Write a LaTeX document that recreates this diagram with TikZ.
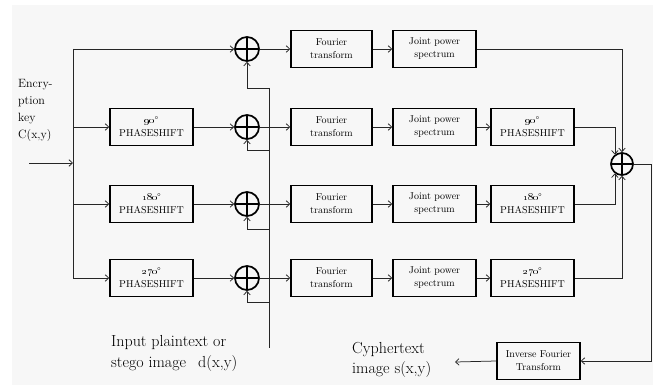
\documentclass[tikz,border=0pt]{standalone}
\usetikzlibrary{arrows.meta}
\begin{document}
\begin{tikzpicture}[x=1pt,y=-1pt,
  ln/.style={line width=0.75pt, draw=black!85},
  arr/.style={ln, -{Straight Barb[length=3.5pt,width=6.5pt]}},
  blk/.style={draw, line width=1.5pt, minimum width=83pt, minimum height=37pt,
    align=center, inner sep=1pt, font=\fontsize{10}{13}\selectfont},
  addr/.style={circle, draw, line width=1.7pt, minimum size=24pt, inner sep=0pt,
    path picture={\draw[line width=1.3pt]
      (path picture bounding box.north) -- (path picture bounding box.south)
      (path picture bounding box.west) -- (path picture bounding box.east);}},
  lbl/.style={anchor=north west, align=left, inner sep=0pt}]
\useasboundingbox (0,0) rectangle (661,385);
\fill[black!3] (12,5) rectangle (653,385);

% summing junctions for key and plaintext
\node[addr] (a1) at (247,49) {};
\node[addr] (a2) at (247,127) {};
\node[addr] (a3) at (247,204) {};
\node[addr] (a4) at (247,278) {};

% phase shifts applied to the key
\node[blk] (ps2) at (151.5,127) {\oldstylenums{90}°\\PHASESHIFT};
\node[blk] (ps3) at (151.5,204) {\oldstylenums{180}°\\PHASESHIFT};
\node[blk] (ps4) at (151.5,278) {\oldstylenums{270}°\\PHASESHIFT};

% transform chains
\node[blk, minimum width=81pt] (ft1) at (331.5,49) {Fourier\\transform};
\node[blk, minimum width=81pt] (ft2) at (331.5,127) {Fourier\\transform};
\node[blk, minimum width=81pt] (ft3) at (331.5,204) {Fourier\\transform};
\node[blk, minimum width=81pt] (ft4) at (331.5,278) {Fourier\\transform};
\node[blk] (jp1) at (434.5,49) {Joint power\\spectrum};
\node[blk] (jp2) at (434.5,127) {Joint power\\spectrum};
\node[blk] (jp3) at (434.5,204) {Joint power\\spectrum};
\node[blk] (jp4) at (434.5,278) {Joint power\\spectrum};
\node[blk] (rp2) at (532.5,127) {\oldstylenums{90}°\\PHASESHIFT};
\node[blk] (rp3) at (532.5,204) {\oldstylenums{180}°\\PHASESHIFT};
\node[blk] (rp4) at (532.5,278) {\oldstylenums{270}°\\PHASESHIFT};

% final sum and inverse transform
\node[addr, minimum size=22pt] (fa) at (622,164) {};
\node[blk] (ift) at (538.5,361) {Inverse Fourier\\Transform};

% labels
\node[lbl, font=\fontsize{12}{17}\selectfont] (key) at (18,79) {Encry-\\ption\\key\\C(x,y)};
\node[lbl, font=\fontsize{16}{21}\selectfont] (pin) at (111,335) {Input plaintext or\\stego image\hspace{12pt}d(x,y)};
\node[lbl, font=\fontsize{16}{20}\selectfont] (cout) at (352,342) {Cyphertext\\image s(x,y)};

% key distribution bus
\coordinate (kin) at (29,163);
\coordinate (kj) at (73,163);
\coordinate (kt) at (73,49);
\coordinate (kb) at (73,278);
\draw[arr] (kin) -- (kj);
\draw[ln] (kt) -- (kb);
\draw[arr] (kt) -- (a1.west);
\draw[arr] (kt |- ps2.west) -- (ps2.west);
\draw[arr] (kt |- ps3.west) -- (ps3.west);
\draw[arr] (kb) -- (ps4.west);
\draw[arr] (ps2.east) -- (a2.west);
\draw[arr] (ps3.east) -- (a3.west);
\draw[arr] (ps4.east) -- (a4.west);

% plaintext bus
\coordinate (d1) at (269,88);
\coordinate (d2) at (269,150);
\coordinate (d3) at (269,229);
\coordinate (d4) at (269,302);
\coordinate (db) at (269,348);
\draw[ln] (d1) -- (db);
\draw[arr] (d1) -| (a1.south);
\draw[arr] (d2) -| (a2.south);
\draw[arr] (d3) -| (a3.south);
\draw[arr] (d4) -| (a4.south);

% chains
\foreach \i in {1,2,3,4}{
  \draw[arr] (a\i.east) -- (ft\i.west);
  \draw[arr] (ft\i.east) -- (jp\i.west);
}
\foreach \i in {2,3,4}{
  \draw[arr] (jp\i.east) -- (rp\i.west);
}

% into the final sum
\draw[arr] (jp1.east) -| (fa.north);
\draw[arr] (rp2.east) -| (fa.127);
\draw[arr] (rp3.east) -| (fa.233);
\draw[arr] (rp4.east) -| (fa.south);

% output path
\coordinate (fo) at (651,164);
\coordinate (ct) at (455,362);
\draw[arr] (fa.east) -- (fo) |- (ift.east);
\draw[arr] (ift.west) -- (ct);
\end{tikzpicture}
\end{document}
